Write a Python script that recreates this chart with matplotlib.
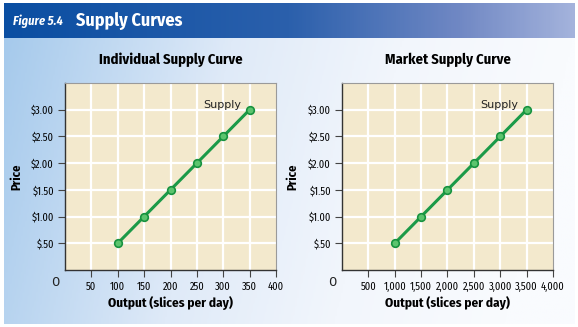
import numpy as np
import matplotlib.pyplot as plt
from matplotlib.colors import LinearSegmentedColormap

# data
ind_output = [100, 150, 200, 250, 300, 350]
mkt_output = [1000, 1500, 2000, 2500, 3000, 3500]
price = [0.5, 1.0, 1.5, 2.0, 2.5, 3.0]
price_ticks = [0.5, 1.0, 1.5, 2.0, 2.5, 3.0]
price_labels = ["\\$.50", "\\$1.00", "\\$1.50", "\\$2.00", "\\$2.50", "\\$3.00"]
ind_ticks = [50, 100, 150, 200, 250, 300, 350, 400]
ind_labels = ["50", "100", "150", "200", "250", "300", "350", "400"]
mkt_ticks = [500, 1000, 1500, 2000, 2500, 3000, 3500, 4000]
mkt_labels = ["500", "1,000", "1,500", "2,000", "2,500", "3,000", "3,500", "4,000"]

plt.rcParams['font.family'] = ['Fira Sans Condensed', 'DejaVu Sans']
plt.rcParams['font.stretch'] = 'condensed'

W, H = 578, 327
fig = plt.figure(figsize=(W / 100, H / 100), dpi=100)

# background
bg = fig.add_axes([0, 0, 1, 1])
bg.set_xlim(0, W)
bg.set_ylim(H, 0)
bg.axis('off')
body_cmap = LinearSegmentedColormap.from_list(
    'body', [(0, '#a6caec'), (0.4, '#dfeaf8'), (0.7, '#f2f6fc'), (1, '#f9fbfe')])
gx = np.linspace(0, 1, 300)
gy = np.linspace(0, 1, 100)
GX, GY = np.meshgrid(gx, gy)
bg.imshow(np.clip(GX + 0.12 * GY, 0, 1), cmap=body_cmap, extent=(4, 575, 324, 38),
          aspect='auto', vmin=0, vmax=1)
head_cmap = LinearSegmentedColormap.from_list(
    'head', [(0, '#0a4ea2'), (0.5, '#2b60ac'), (0.8, '#7088c4'), (1, '#a4b3dc')])
bg.imshow(gx[None, :], cmap=head_cmap, extent=(4, 575, 38, 3), aspect='auto')
bg.text(13, 21, "Figure 5.4", color='white', fontsize=9, fontweight='bold',
        fontstyle='italic', va='center', ha='left')
bg.text(76, 21, "Supply Curves", color='white', fontsize=13, fontweight='bold',
        va='center', ha='left')


def panel(left, xs, xmax, ticks, labels, title, zero_x, price_x):
    ax = fig.add_axes([left / W, (H - 270) / H, 211 / W, 187 / H])
    ax.set_facecolor('#f3e9cd')
    ax.set_xlim(0, xmax)
    ax.set_ylim(0, 3.5)
    for t in ticks[:-1]:
        ax.axvline(t, color='white', lw=1.6, zorder=1)
    for p in price_ticks:
        ax.axhline(p, color='white', lw=1.6, zorder=1)
    ax.plot(xs, price, color='#1b9a48', lw=2.2, zorder=3,
            marker='o', markersize=5.5, markerfacecolor='#5cc46e',
            markeredgecolor='#17923f', markeredgewidth=1.2)
    ax.text(xs[-1] - xmax * 0.04, 3.0, "Supply", fontsize=8,
            family='DejaVu Sans', stretch='normal', ha='right', va='bottom',
            color='#222222')
    ax.set_xticks(ticks)
    ax.set_xticklabels(labels, fontsize=7.5)
    ax.set_yticks(price_ticks)
    ax.set_yticklabels(price_labels, fontsize=7.5)
    ax.tick_params(direction='out', length=5, width=0.8, color='#444444', pad=3)
    for s in ['left', 'bottom']:
        ax.spines[s].set_color('#333333')
        ax.spines[s].set_linewidth(1.0)
    for s in ['top', 'right']:
        ax.spines[s].set_color('#9a9a9a')
        ax.spines[s].set_linewidth(0.8)
    ax.set_xlabel("Output (slices per day)", fontsize=9.5, fontweight='bold', labelpad=3)
    ax.set_ylabel("Price", fontsize=9, fontweight='bold')
    ax.yaxis.set_label_coords(-(left - price_x) / 211, 0.5)
    ax.set_title(title, fontsize=10.5, fontweight='bold', pad=14)
    bg.text(zero_x, 282, "0", fontsize=9.5, family='DejaVu Sans', stretch='normal',
            ha='center', va='center', color='#222222')
    return ax


panel(65, ind_output, 400, ind_ticks, ind_labels, "Individual Supply Curve", 55, 23)
panel(342, mkt_output, 4000, mkt_ticks, mkt_labels, "Market Supply Curve", 332, 299)

fig.savefig("out.png", dpi=100)
